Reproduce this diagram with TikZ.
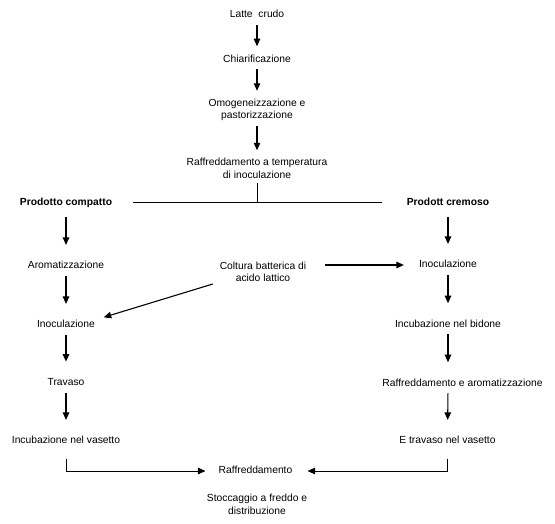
\documentclass[tikz,border=0pt]{standalone}
\usepackage{fontspec}
\setmainfont{Liberation Sans}
\usetikzlibrary{arrows.meta}
\begin{document}
\begin{tikzpicture}[x=1pt,y=-1pt,
  tx/.style={font=\fontsize{10.3}{12.5}\selectfont, inner sep=0pt, text height=7.6pt, text depth=2.2pt},
  tx2/.style={font=\fontsize{10.3}{12.5}\selectfont, inner sep=0pt, align=center},
  bx/.style={tx, font=\fontsize{10.3}{12.5}\selectfont\bfseries},
  arr/.style={line width=1.1pt, -{Triangle[length=7.5pt,width=6.5pt]}, shorten <=5pt, shorten >=8pt},
  sarr/.style={arr, shorten >=16pt},
  ln/.style={line width=1pt}]
\useasboundingbox (0,0) rectangle (555,523);
\node[tx] (latte) at (257,15) {Latte\ \ crudo};
\node[tx] (chiar) at (257,59.3) {Chiarificazione};
\node[tx2] (omog) at (257,110) {Omogeneizzazione e\\pastorizzazione};
\node[tx2] (raffr) at (257,168.5) {Raffreddamento a temperatura\\di inoculazione};
\node[bx] (comp) at (66,202.7) {Prodotto compatto};
\node[bx] (crem) at (448,202.7) {Prodott cremoso};
\node[tx] (aroma) at (66,266) {Aromatizzazione};
\node[tx2] (coltura) at (263,271.7) {Coltura batterica di\\acido lattico};
\node[tx] (inocR) at (448,265) {Inoculazione};
\node[tx] (inocL) at (66,325) {Inoculazione};
\node[tx] (incubB) at (448,324.3) {Incubazione nel bidone};
\node[tx] (trav) at (66,382.7) {Travaso};
\node[tx] (raffar) at (462.5,383.3) {Raffreddamento e aromatizzazione};
\node[tx] (incubV) at (66,441) {Incubazione nel vasetto};
\node[tx] (etrav) at (447.5,441) {E travaso nel vasetto};
\node[tx] (raff) at (255.5,471) {Raffreddamento};
\node[tx2] (stocc) at (257,504.5) {Stoccaggio a freddo e\\distribuzione};

\draw[arr] (latte) -- (chiar);
\draw[arr] (chiar) -- (omog);
\draw[arr] (omog) -- (raffr);
\coordinate (j) at (raffr |- comp);
\draw[ln, shorten <=4.7pt] (raffr) -- (j);
\draw[ln, shorten <=21pt, shorten >=25pt] (comp) -- (crem);
\draw[sarr, shorten <=9pt] (comp) -- (aroma);
\draw[sarr, shorten <=9pt] (crem) -- (inocR);
\draw[sarr] (aroma) -- (inocL);
\draw[sarr] (inocL) -- (trav);
\draw[sarr] (trav) -- (incubV);
\draw[sarr] (inocR) -- (incubB);
\draw[sarr] (incubB) -- (incubB |- raffar.north);
\draw[sarr] (raffar.south -| incubB) -- (etrav);
\draw[arr, shorten <=18.4pt, shorten >=15pt] (coltura.east |- inocR) -- (inocR);
\draw[arr, shorten <=7pt, shorten >=9pt] (coltura.south west) -- (inocL.north east);
\draw[arr, line width=1pt, shorten <=12.4pt, shorten >=13pt] (incubV) |- (raff);
\draw[arr, line width=1pt, shorten <=12.4pt, shorten >=15pt] (etrav) |- (raff);
\end{tikzpicture}
\end{document}
